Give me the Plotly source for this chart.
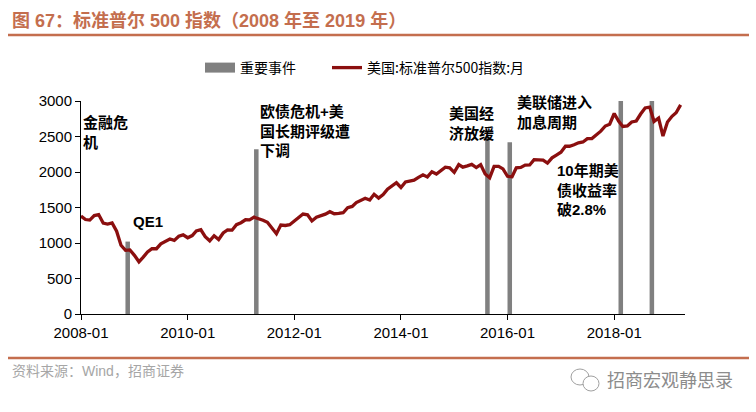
import plotly.graph_objects as go
import pandas as pd

# ---------------- data ----------------
months = pd.date_range("2008-01-01", "2019-04-01", freq="MS").strftime("%Y-%m-%d").tolist()
spx = [
    1378.55, 1330.63, 1322.70, 1385.59, 1400.38, 1280.00, 1267.38, 1282.83, 1166.36, 968.75, 896.24, 903.25,
    825.88, 735.09, 797.87, 872.81, 919.14, 919.32, 987.48, 1020.62, 1057.08, 1036.19, 1095.63, 1115.10,
    1073.87, 1104.49, 1169.43, 1186.69, 1089.41, 1030.71, 1101.60, 1049.33, 1141.20, 1183.26, 1180.55, 1257.64,
    1286.12, 1327.22, 1325.83, 1363.61, 1345.20, 1320.64, 1292.28, 1218.89, 1131.42, 1253.30, 1246.96, 1257.60,
    1312.41, 1365.68, 1408.47, 1397.91, 1310.33, 1362.16, 1379.32, 1406.58, 1440.67, 1412.16, 1416.18, 1426.19,
    1498.11, 1514.68, 1569.19, 1597.57, 1630.74, 1606.28, 1685.73, 1632.97, 1681.55, 1756.54, 1805.81, 1848.36,
    1782.59, 1859.45, 1872.34, 1883.95, 1923.57, 1960.23, 1930.67, 2003.37, 1972.29, 2018.05, 2067.56, 2058.90,
    1994.99, 2104.50, 2067.89, 2085.51, 2107.39, 2063.11, 2103.84, 1972.18, 1920.03, 2079.36, 2080.41, 2043.94,
    1940.24, 1932.23, 2059.74, 2065.30, 2096.95, 2098.86, 2173.60, 2170.95, 2168.27, 2126.15, 2198.81, 2238.83,
    2278.87, 2363.64, 2362.72, 2384.20, 2411.80, 2423.41, 2470.30, 2471.65, 2519.36, 2575.26, 2647.58, 2673.61,
    2823.81, 2713.83, 2640.87, 2648.05, 2705.27, 2718.37, 2816.29, 2901.52, 2913.98, 2711.74, 2760.17, 2506.85,
    2704.10, 2784.49, 2834.40, 2945.83,
]

event_months = ["2008-11-01", "2011-04-01", "2015-08-01", "2016-01-01", "2018-02-01", "2018-09-01"]
event_heights = [1020, 2320, 2500, 2420, 3000, 3000]

ann_texts = [
    "金融危<br>机",
    "QE1",
    "欧债危机+美<br>国长期评级遭<br>下调",
    "美国经<br>济放缓",
    "美联储进入<br>加息周期",
    "10年期美<br>债收益率<br>破2.8%",
    "美国落地对<br>华2000亿美<br>元商品关税",
]
ann_x = ["2008-01-01", "2008-12-09", "2011-04-28", "2014-11-14", "2016-02-23", "2016-11-23", "2018-02-18"]
ann_y = [2550, 1300, 2577, 2690, 2845, 1746, 3324]

xtick_vals = ["2008-01-01", "2010-01-01", "2012-01-01", "2014-01-01", "2016-01-01", "2018-01-01"]
xtick_text = ["2008-01", "2010-01", "2012-01", "2014-01", "2016-01", "2018-01"]
ytick_vals = [0, 500, 1000, 1500, 2000, 2500, 3000]

title_text = "图 67：标准普尔 500 指数（2008 年至 2019 年）"
source_text = "资料来源：Wind，招商证券"
brand_text = "招商宏观静思录"

# ---------------- layout geometry ----------------
W, H = 756, 412
L, R, T, B = 81, 685, 101, 314  # plot area in px


def px2x(px):
    return (px - L) / (R - L)


def py2y(py):
    return (B - py) / (B - T)


ORANGE = "#C46E4E"
LINE_RED = "#8B0F0F"
GRAY = "#808080"
FONT_LAT = "Liberation Sans, Arial, Noto Sans CJK SC"
FONT_CJK = "Liberation Sans, Noto Sans CJK SC"

fig = go.Figure()

# legend proxy for event bars
fig.add_trace(go.Scatter(
    x=[None], y=[None], mode="lines", name="重要事件",
    line=dict(color=GRAY, width=10), showlegend=True, legendwidth=82,
))

fig.add_trace(go.Bar(
    x=event_months, y=event_heights, xperiod="M1", xperiodalignment="middle",
    width=31 * 86400000, marker=dict(color=GRAY, line=dict(width=0)),
    showlegend=False, hoverinfo="skip",
))

fig.add_trace(go.Scatter(
    x=months, y=spx, mode="lines", name="美国:标准普尔500指数:月",
    line=dict(color=LINE_RED, width=3.3),
))

annotations = []
for t, xv, yv in zip(ann_texts, ann_x, ann_y):
    annotations.append(dict(
        x=xv, y=yv, xref="x", yref="y", text=t, showarrow=False,
        xanchor="left", yanchor="middle", align="left",
        font=dict(family=FONT_CJK, size=15, color="black", weight="bold"),
    ))

# title
annotations.append(dict(
    x=px2x(10), y=py2y(20), xref="paper", yref="paper", text=title_text,
    showarrow=False, xanchor="left", yanchor="middle",
    font=dict(family=FONT_CJK, size=18, color=ORANGE, weight="bold"),
))
# source
annotations.append(dict(
    x=px2x(10), y=py2y(371), xref="paper", yref="paper", text=source_text,
    showarrow=False, xanchor="left", yanchor="middle",
    font=dict(family=FONT_CJK, size=14, color="#A6A6A6"),
))
# brand
annotations.append(dict(
    x=px2x(605), y=py2y(379), xref="paper", yref="paper", text=brand_text,
    showarrow=False, xanchor="left", yanchor="middle",
    font=dict(family="Noto Sans CJK SC", size=18, color="#8C8C8C"),
))

shapes = [
    dict(type="line", xref="paper", yref="paper", x0=px2x(8), x1=px2x(749),
         y0=py2y(35), y1=py2y(35), line=dict(color=ORANGE, width=2.5)),
    dict(type="line", xref="paper", yref="paper", x0=px2x(8), x1=px2x(749),
         y0=py2y(358), y1=py2y(358), line=dict(color=ORANGE, width=2.5)),
    # small chat-bubble icon beside brand
    dict(type="circle", xref="paper", yref="paper", x0=px2x(571), x1=px2x(589),
         y0=py2y(385), y1=py2y(369), line=dict(color="#A0A0A0", width=1)),
    dict(type="circle", xref="paper", yref="paper", x0=px2x(583), x1=px2x(599),
         y0=py2y(391), y1=py2y(376), line=dict(color="#A0A0A0", width=1),
         fillcolor="white"),
]

fig.update_layout(
    width=W, height=H,
    margin=dict(l=L, r=W - R, t=T, b=H - B, pad=0),
    paper_bgcolor="white", plot_bgcolor="white",
    barmode="overlay",
    showlegend=True,
    legend=dict(
        orientation="h", x=px2x(200), xanchor="left", y=py2y(68), yanchor="middle",
        font=dict(family="Noto Sans CJK SC", size=14, color="black"),
        bgcolor="rgba(0,0,0,0)",
    ),
    annotations=annotations,
    shapes=shapes,
    xaxis=dict(
        type="date", range=["2008-01-01", "2019-05-01"],
        tickvals=xtick_vals, ticktext=xtick_text,
        showline=True, linecolor="black", linewidth=1,
        ticks="outside", ticklen=5, tickcolor="black", tickwidth=1,
        showgrid=False, zeroline=False,
        tickfont=dict(family=FONT_LAT, size=15, color="black"),
    ),
    yaxis=dict(
        range=[0, 3000], tickvals=ytick_vals,
        showline=True, linecolor="black", linewidth=1,
        ticks="outside", ticklen=5, tickcolor="black", tickwidth=1,
        showgrid=False, zeroline=False,
        tickfont=dict(family=FONT_LAT, size=15, color="black"),
    ),
)

fig.write_html("out.html")
